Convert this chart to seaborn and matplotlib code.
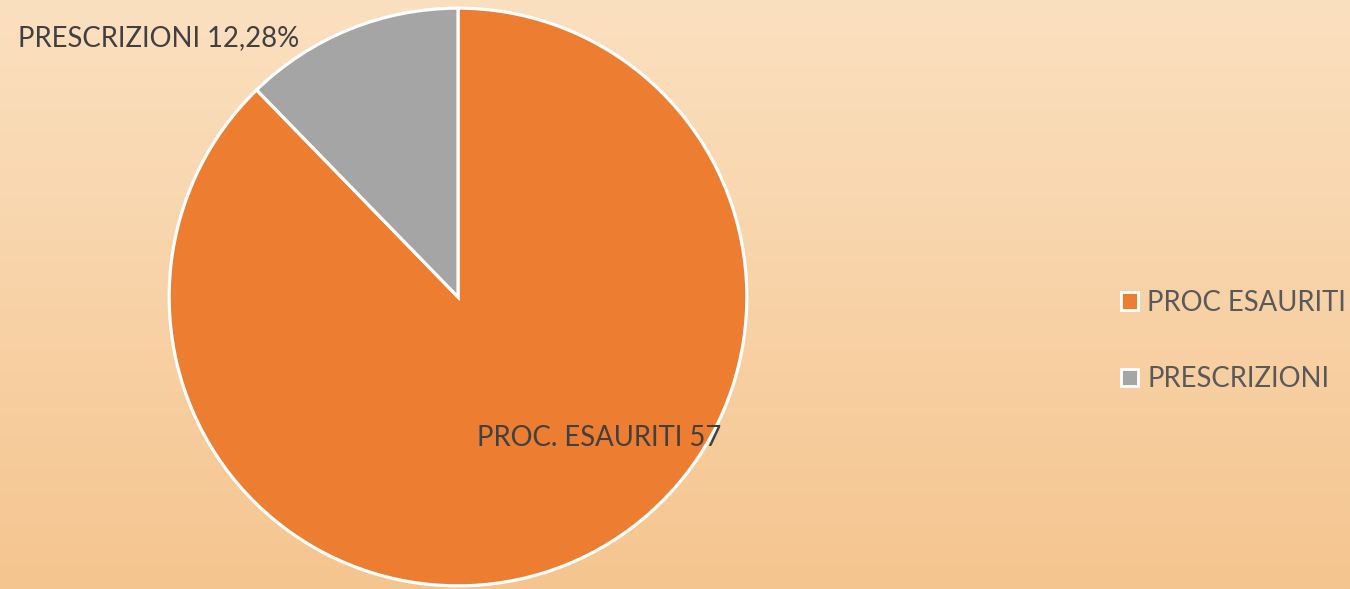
import numpy as np
import matplotlib.pyplot as plt
import seaborn as sns
from matplotlib.patches import Patch

# dati
categorie = ['PROC ESAURITI', 'PRESCRIZIONI']
valori = [87.72, 12.28]
etichette = ['PROC. ESAURITI 57', 'PRESCRIZIONI 12,28%']
colori = ['#ED7D31', '#A5A5A5']

sns.set_theme(style="white")
plt.rcParams['font.family'] = ['Lato', 'DejaVu Sans']

W, H = 1350, 589
fig = plt.figure(figsize=(W / 100, H / 100), dpi=100)

# sfondo sfumato
bg = fig.add_axes([0, 0, 1, 1])
top = np.array([251, 224, 192]) / 255
bot = np.array([245, 197, 143]) / 255
t = np.linspace(0, 1, 256)[:, None]
grad = top[None, :] * (1 - t) + bot[None, :] * t
bg.imshow(grad[:, None, :], aspect='auto', extent=[0, 1, 0, 1])
bg.set_axis_off()

# torta
cx, cy, r = 458, 297, 290
ax = fig.add_axes([(cx - r) / W, (H - cy - r) / H, 2 * r / W, 2 * r / H])
ax.pie(valori, colors=colori, startangle=90, counterclock=False,
       wedgeprops=dict(edgecolor='white', linewidth=2.3))
ax.set_xlim(-1.004, 1.004)
ax.set_ylim(-1.004, 1.004)
ax.set_axis_off()

# etichette dati
fs = 19.8
fig.text(18 / W, 1 - 38 / H, etichette[1], fontsize=fs, color='#404040',
         ha='left', va='center')
fig.text(477 / W, 1 - 438 / H, etichette[0], fontsize=fs, color='#404040',
         ha='left', va='center')

# legenda
handles = [Patch(facecolor=c, edgecolor='white', linewidth=2) for c in colori]
fig.legend(handles, categorie, loc='center left', bbox_to_anchor=(1121 / W, 1 - 341 / H),
           frameon=False, fontsize=fs, labelcolor='#595959', handlelength=0.6,
           handleheight=0.6, handletextpad=0.35, labelspacing=1.85, borderpad=0,
           borderaxespad=0)

fig.savefig('out.png', dpi=100)
